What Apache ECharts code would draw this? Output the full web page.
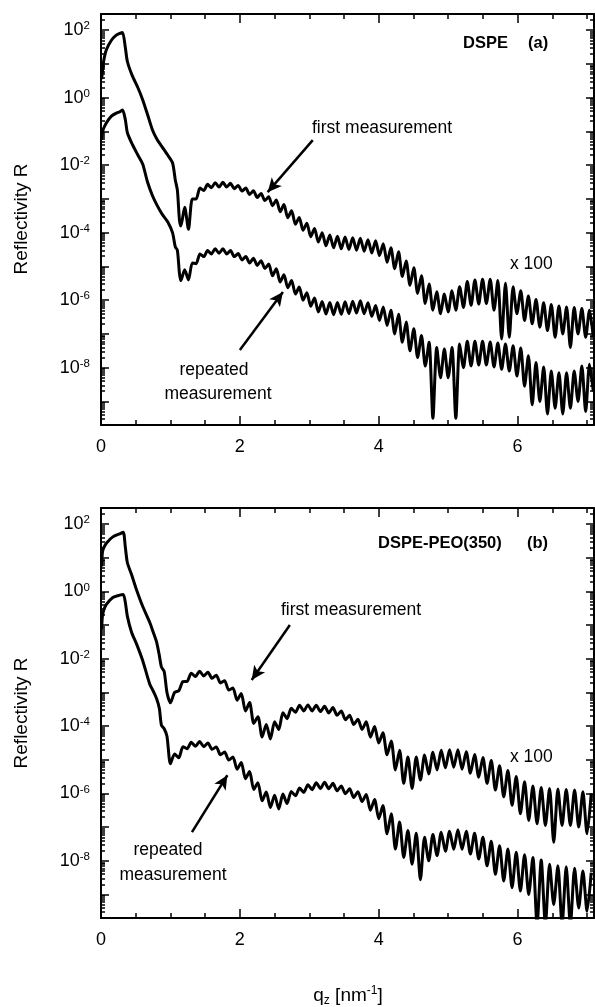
<!DOCTYPE html>
<html><head><meta charset="utf-8">
<script src="https://cdn.jsdelivr.net/npm/echarts@6/dist/echarts.min.js"></script>
<style>html,body{margin:0;padding:0;background:#fff}#c{width:595px;height:1007px}</style>
</head><body><div id="c"></div>
<script>
// ---------- DATA (log10 of reflectivity) ----------
// Panel (a) DSPE
const qEdgeA = [0.01,0.02,0.04,0.08,0.15,0.22,0.27,0.31,0.35,0.38,0.45,0.53,0.6,0.67,0.74,0.81,0.88,0.96,1.03,1.07,1.1,1.13];
const upperEdgeA = [0.55,0.77,1.1,1.43,1.7,1.85,1.9,1.93,1.49,1.07,0.65,0.3,-0.06,-0.5,-0.95,-1.25,-1.46,-1.7,-1.93,-2.44,-2.74,-3.63];
const lowerEdgeA = [-1.25,-1.04,-0.9,-0.74,-0.55,-0.46,-0.42,-0.37,-0.65,-1.04,-1.38,-1.7,-1.97,-2.5,-2.9,-3.2,-3.45,-3.68,-4.0,-4.42,-4.52,-5.21];
const qFringeA = [1.15,1.205,1.26,1.315,1.37,1.425,1.48,1.535,1.59,1.645,1.7,1.755,1.81,1.865,1.92,1.975,2.03,2.085,2.14,2.195,2.25,2.305,2.36,2.415,2.47,2.525,2.58,2.635,2.69,2.745,2.8,2.855,2.91,2.965,3.02,3.075,3.13,3.185,3.24,3.295,3.35,3.405,3.46,3.515,3.57,3.625,3.68,3.735,3.79,3.845,3.9,3.955,4.01,4.065,4.12,4.175,4.23,4.285,4.34,4.395,4.45,4.505,4.56,4.615,4.67,4.725,4.78,4.835,4.89,4.945,5.0,5.055,5.11,5.165,5.22,5.275,5.33,5.385,5.44,5.495,5.55,5.605,5.66,5.715,5.77,5.825,5.88,5.935,5.99,6.045,6.1,6.155,6.21,6.265,6.32,6.375,6.43,6.485,6.54,6.595,6.65,6.705,6.76,6.815,6.87,6.925,6.98,7.035,7.09];
const upperFringeA = [
 -3.8,-3.25,-3.9,-3.0,-3.0,-2.68,-2.75,-2.57,-2.67,-2.52,
 -2.65,-2.51,-2.65,-2.54,-2.7,-2.6,-2.77,-2.68,-2.87,-2.76,
 -2.96,-2.84,-3.05,-2.94,-3.2,-3.03,-3.38,-3.17,-3.56,-3.35,
 -3.75,-3.55,-3.93,-3.72,-4.12,-3.88,-4.28,-4.0,-4.39,-4.07,
 -4.45,-4.11,-4.48,-4.13,-4.5,-4.15,-4.52,-4.17,-4.55,-4.21,
 -4.6,-4.24,-4.68,-4.33,-4.88,-4.45,-5.07,-4.57,-5.3,-4.84,
 -5.56,-5.04,-5.8,-5.28,-6.1,-5.52,-6.3,-5.75,-6.4,-5.82,
 -6.35,-5.72,-6.3,-5.6,-6.22,-5.45,-6.15,-5.4,-6.12,-5.38,
 -6.1,-5.38,-6.3,-5.42,-7.15,-5.5,-7.1,-5.6,-6.4,-5.72,
 -6.6,-5.88,-6.7,-5.98,-6.8,-6.08,-6.9,-6.13,-7.1,-6.17,
 -7.0,-6.2,-7.4,-6.22,-7.0,-6.25,-7.1,-6.3,-7.1];
const lowerFringeA = [
 -5.42,-5.1,-5.4,-4.9,-4.92,-4.63,-4.71,-4.53,-4.63,-4.48,
 -4.61,-4.48,-4.63,-4.53,-4.71,-4.62,-4.81,-4.71,-4.9,-4.76,
 -4.97,-4.83,-5.06,-4.93,-5.28,-5.07,-5.46,-5.25,-5.63,-5.42,
 -5.82,-5.61,-6.0,-5.78,-6.18,-5.94,-6.35,-6.04,-6.41,-6.07,
 -6.43,-6.07,-6.42,-6.05,-6.4,-6.03,-6.38,-6.02,-6.4,-6.08,
 -6.48,-6.16,-6.6,-6.2,-6.75,-6.3,-7.0,-6.42,-7.25,-6.65,
 -7.5,-6.85,-7.7,-7.05,-7.95,-7.25,-9.5,-7.4,-8.3,-7.45,
 -8.3,-7.4,-9.5,-7.3,-8.0,-7.22,-7.95,-7.22,-7.92,-7.22,
 -7.92,-7.24,-7.98,-7.27,-8.05,-7.3,-8.1,-7.35,-8.25,-7.42,
 -8.55,-7.65,-9.1,-7.85,-9.0,-7.98,-9.37,-8.1,-9.2,-8.15,
 -9.37,-8.15,-9.2,-8.1,-9.0,-7.95,-9.3,-7.9,-8.7];

// Panel (b) DSPE-PEO(350)
const qEdgeB = [0.01,0.02,0.04,0.08,0.17,0.27,0.32,0.35,0.38,0.44,0.51,0.6,0.7,0.75,0.8,0.84,0.87,0.91,0.95];
const upperEdgeB = [0.74,1.15,1.3,1.44,1.62,1.71,1.76,1.32,0.85,0.5,0.06,-0.44,-0.91,-1.2,-1.5,-1.9,-2.24,-2.38,-3.0];
const lowerEdgeB = [-1.12,-0.74,-0.55,-0.38,-0.18,-0.11,-0.09,-0.32,-0.74,-1.21,-1.55,-2.05,-2.74,-2.95,-3.18,-3.47,-3.97,-4.08,-4.3];
const qFringeB = [1.0,1.06,1.12,1.18,1.24,1.3,1.36,1.42,1.48,1.54,1.6,1.66,1.72,1.78,1.84,1.9,1.96,2.02,2.08,2.14,2.2,2.26,2.32,2.38,2.44,2.5,2.56,2.62,2.68,2.74,2.8,2.86,2.92,2.98,3.04,3.1,3.16,3.22,3.28,3.34,3.4,3.46,3.52,3.58,3.64,3.7,3.76,3.82,3.88,3.94,4.0,4.06,4.12,4.18,4.24,4.3,4.36,4.42,4.48,4.54,4.6,4.66,4.72,4.78,4.84,4.9,4.96,5.02,5.08,5.14,5.2,5.26,5.32,5.38,5.44,5.5,5.56,5.62,5.68,5.74,5.8,5.86,5.92,5.98,6.04,6.1,6.16,6.22,6.28,6.34,6.4,6.46,6.52,6.58,6.64,6.7,6.76,6.82,6.88,6.94,7.0,7.06];
const upperFringeB = [
 -3.31,-3.0,-2.95,-2.68,-2.67,-2.43,-2.53,-2.37,-2.51,-2.4,
 -2.58,-2.49,-2.72,-2.65,-2.93,-2.87,-3.23,-3.03,-3.55,-3.3,
 -3.92,-3.72,-4.32,-3.95,-4.38,-3.87,-4.1,-3.6,-3.78,-3.47,
 -3.59,-3.38,-3.55,-3.37,-3.55,-3.38,-3.57,-3.41,-3.61,-3.45,
 -3.68,-3.55,-3.81,-3.68,-3.95,-3.8,-4.1,-3.87,-4.33,-4.01,
 -4.5,-4.2,-4.85,-4.44,-5.3,-4.72,-5.7,-4.92,-5.85,-4.92,
 -5.6,-4.86,-5.42,-4.78,-5.3,-4.72,-5.24,-4.7,-5.22,-4.7,
 -5.28,-4.76,-5.4,-4.84,-5.52,-4.93,-5.7,-5.02,-5.9,-5.18,
 -6.1,-5.32,-6.35,-5.5,-6.6,-5.65,-6.8,-5.78,-6.9,-5.82,
 -6.95,-5.85,-7.45,-5.87,-6.95,-5.88,-6.95,-5.9,-7.0,-5.95,
 -7.2,-6.0];
const lowerFringeB = [
 -5.12,-4.83,-4.94,-4.61,-4.67,-4.48,-4.6,-4.46,-4.61,-4.5,
 -4.69,-4.62,-4.85,-4.77,-5.01,-4.92,-5.28,-5.08,-5.56,-5.35,
 -5.88,-5.68,-6.22,-5.96,-6.42,-6.05,-6.46,-6.02,-6.3,-5.94,
 -6.07,-5.84,-5.97,-5.74,-5.89,-5.68,-5.85,-5.67,-5.86,-5.7,
 -5.92,-5.78,-6.01,-5.86,-6.12,-5.95,-6.24,-6.03,-6.5,-6.18,
 -6.75,-6.36,-7.2,-6.6,-7.65,-6.85,-7.9,-7.1,-8.1,-7.18,
 -8.56,-7.3,-8.0,-7.22,-7.85,-7.15,-7.72,-7.12,-7.66,-7.08,
 -7.66,-7.12,-7.8,-7.18,-7.95,-7.3,-8.15,-7.42,-8.4,-7.55,
 -8.6,-7.65,-8.8,-7.75,-8.9,-7.82,-9.0,-7.9,-9.9,-7.98,
 -9.9,-8.1,-9.3,-8.15,-9.9,-8.18,-9.9,-8.22,-9.4,-8.3,
 -9.5,-8.35];

// Axis tick labels
const yLabelExps = [-8,-6,-4,-2,0,2];
const xLabelVals = [0,2,4,6];

// ---------- CHART ----------
const FONT = '"Liberation Sans", Arial, Helvetica, sans-serif';
const Y_MIN = Math.log10(2e-10), Y_MAX = Math.log10(300);
const X_MIN = 0, X_MAX = 7.1;
const majorY = []; for (let n = -9; n <= 2; n++) majorY.push(n);
const minorY = [];
for (let n = -10; n <= 2; n++) for (let k = 2; k <= 9; k++) { const v = n + Math.log10(k); if (v > Y_MIN && v < Y_MAX) minorY.push(v); }
const majorX = [0,2,4,6];
const minorX = [0.5,1,1.5,2.5,3,3.5,4.5,5,5.5,6.5,7];

const zip = (q, v) => q.map((x, i) => [x, v[i]]);
const curve = (qe, ve, qf, vf) => zip(qe, ve).concat(zip(qf, vf));

const grids = [
  {left: 101, top: 14, width: 493, height: 411},
  {left: 101, top: 508, width: 493, height: 410}
];
const axLine = {show: true, onZero: false, lineStyle: {color: '#000', width: 2}};
const noLine = {show: false, onZero: false};
const tickStyle = {color: '#000', width: 1.5};

function xAxesFor(gi) {
  const base = {type: 'value', gridIndex: gi, min: X_MIN, max: X_MAX, splitLine: {show: false}};
  return [
    Object.assign({}, base, {position: 'bottom', axisLine: axLine,
      axisTick: {show: true, inside: true, length: 9, customValues: majorX, lineStyle: tickStyle},
      axisLabel: {show: true, customValues: xLabelVals, margin: 13, color: '#000', fontSize: 18, fontFamily: FONT}}),
    Object.assign({}, base, {position: 'bottom', axisLine: noLine,
      axisTick: {show: true, inside: true, length: 5, customValues: minorX, lineStyle: tickStyle}, axisLabel: {show: false}}),
    Object.assign({}, base, {position: 'top', axisLine: axLine,
      axisTick: {show: true, inside: true, length: 9, customValues: majorX, lineStyle: tickStyle}, axisLabel: {show: false}}),
    Object.assign({}, base, {position: 'top', axisLine: noLine,
      axisTick: {show: true, inside: true, length: 5, customValues: minorX, lineStyle: tickStyle}, axisLabel: {show: false}})
  ];
}
function yAxesFor(gi) {
  const base = {type: 'value', gridIndex: gi, min: Y_MIN, max: Y_MAX, splitLine: {show: false}};
  return [
    Object.assign({}, base, {position: 'left', axisLine: axLine,
      axisTick: {show: true, inside: true, length: 8, customValues: majorY, lineStyle: tickStyle},
      axisLabel: {show: true, customValues: yLabelExps, margin: 11,
        formatter: v => '{b|10}{s|' + Math.round(v) + '}',
        rich: {b: {fontSize: 18, fontFamily: FONT, color: '#000', lineHeight: 20},
               s: {fontSize: 11.5, fontFamily: FONT, color: '#000', verticalAlign: 'top', lineHeight: 12}}}}),
    Object.assign({}, base, {position: 'left', axisLine: noLine,
      axisTick: {show: true, inside: true, length: 4, customValues: minorY, lineStyle: tickStyle}, axisLabel: {show: false}}),
    Object.assign({}, base, {position: 'right', axisLine: axLine,
      axisTick: {show: true, inside: true, length: 8, customValues: majorY, lineStyle: tickStyle}, axisLabel: {show: false}}),
    Object.assign({}, base, {position: 'right', axisLine: noLine,
      axisTick: {show: true, inside: true, length: 4, customValues: minorY, lineStyle: tickStyle}, axisLabel: {show: false}})
  ];
}

const lineStyle = {color: '#000', width: 3, join: 'round'};
function arrow(from, to) {
  return {silent: true, symbol: ['none', 'arrow'], symbolSize: [10, 14], animation: false,
    lineStyle: {color: '#000', width: 2.5, type: 'solid'}, label: {show: false},
    emphasis: {disabled: true},
    data: [[{coord: from}, {coord: to}]]};
}
function series(name, data, xi, yi, mark) {
  return {name, type: 'line', data, xAxisIndex: xi, yAxisIndex: yi, showSymbol: false, symbol: 'none',
    smooth: 0.25, lineStyle, clip: true, animation: false, silent: true, markLine: mark};
}

const txt = (text, x, y, opts) => ({type: 'text', x, y, silent: true,
  style: Object.assign({text, fill: '#000', fontSize: 17.5, fontFamily: FONT, align: 'center', verticalAlign: 'middle'}, opts || {})});

const option = {
  backgroundColor: '#fff',
  animation: false,
  grid: grids,
  xAxis: xAxesFor(0).concat(xAxesFor(1)),
  yAxis: yAxesFor(0).concat(yAxesFor(1)),
  series: [
    series('DSPE first', curve(qEdgeA, upperEdgeA, qFringeA, upperFringeA), 0, 0, arrow([3.05, -1.26], [2.40, -2.80])),
    series('DSPE repeated', curve(qEdgeA, lowerEdgeA, qFringeA, lowerFringeA), 0, 0, arrow([2.00, -7.48], [2.62, -5.76])),
    series('PEO first', curve(qEdgeB, upperEdgeB, qFringeB, upperFringeB), 4, 4, arrow([2.72, -1.0], [2.17, -2.63])),
    series('PEO repeated', curve(qEdgeB, lowerEdgeB, qFringeB, lowerFringeB), 4, 4, arrow([1.31, -7.15], [1.82, -5.46]))
  ],
  graphic: [
    Object.assign(txt('Reflectivity R', 22, 219, {fontSize: 19}), {rotation: Math.PI / 2}),
    Object.assign(txt('Reflectivity R', 22, 713, {fontSize: 19}), {rotation: Math.PI / 2}),
    txt('DSPE', 463, 43, {align: 'left', fontWeight: 'bold', fontSize: 16.5}),
    txt('(a)', 528, 43, {align: 'left', fontWeight: 'bold', fontSize: 16.5}),
    txt('DSPE-PEO(350)', 378, 543, {align: 'left', fontWeight: 'bold', fontSize: 16.5}),
    txt('(b)', 527, 543, {align: 'left', fontWeight: 'bold', fontSize: 16.5}),
    txt('first measurement', 312, 128, {align: 'left'}),
    txt('repeated', 214, 370),
    txt('measurement', 218, 394),
    txt('x 100', 510, 264, {align: 'left'}),
    txt('first measurement', 281, 610, {align: 'left'}),
    txt('repeated', 168, 850),
    txt('measurement', 173, 875),
    txt('x 100', 510, 757, {align: 'left'}),
    {type: 'text', x: 348, y: 996, silent: true, style: {
      text: '{n|q}{sub|z}{n| [nm}{sup|-1}{n|]}', align: 'center', verticalAlign: 'middle',
      rich: {n: {fontSize: 19, fontFamily: FONT, fill: '#000', color: '#000', lineHeight: 22, verticalAlign: 'middle'},
             sub: {fontSize: 12, fontFamily: FONT, fill: '#000', color: '#000', lineHeight: 12, verticalAlign: 'bottom'},
             sup: {fontSize: 12, fontFamily: FONT, fill: '#000', color: '#000', lineHeight: 12, verticalAlign: 'top'}}}}
  ]
};

const chart = echarts.init(document.getElementById('c'), null, {renderer: 'canvas'});
chart.setOption(option);
</script></body></html>
